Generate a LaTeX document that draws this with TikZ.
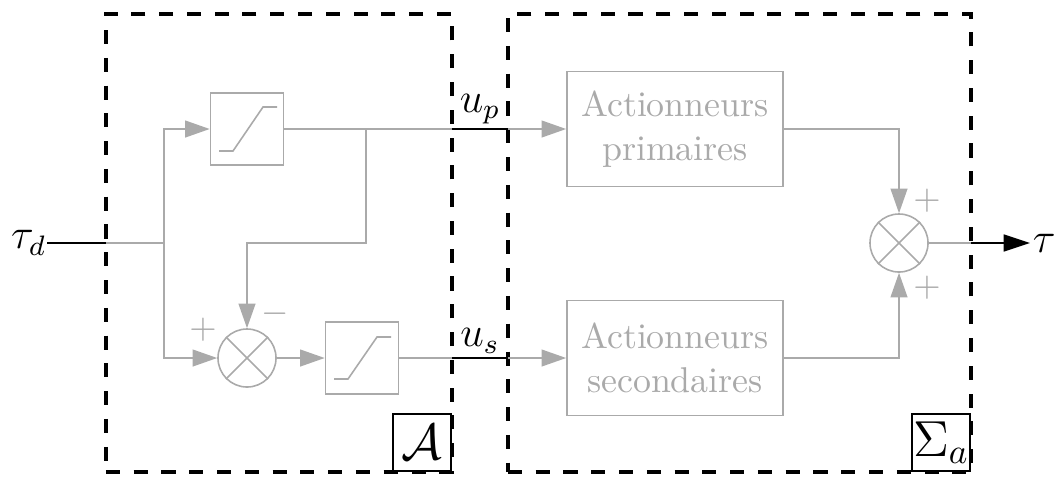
\documentclass[tikz,border=0pt]{standalone}
\usetikzlibrary{arrows.meta}
\definecolor{lg}{RGB}{170,170,170}
\tikzset{
  gl/.style={draw=lg, line width=0.45pt},
  arr/.style={-{Triangle[length=7pt,width=4.8pt]}},
  blk/.style={draw=black, line width=0.6pt},
  dbox/.style={draw=black, line width=1.15pt, dash pattern=on 4pt off 3.9pt, outer sep=0pt, inner sep=0pt},
  satbox/.style={draw=lg, line width=0.45pt, minimum width=0.73cm, minimum height=0.72cm, inner sep=0pt},
  sumnode/.style={circle, draw=lg, line width=0.45pt, minimum size=0.58cm, inner sep=0pt},
  actbox/.style={draw=lg, text=lg, line width=0.45pt, minimum width=2.16cm, minimum height=1.15cm, align=center, inner sep=0pt, font=\fontsize{10.2pt}{12.5pt}\selectfont},
  lbl/.style={draw=black, line width=0.6pt, minimum width=0.58cm, minimum height=0.57cm, inner sep=0pt, font=\Large},
  sgn/.style={text=lg, inner sep=0pt},
}
\begin{document}
\begin{tikzpicture}[x=0.01cm, y=-0.01cm]
\useasboundingbox (0,0) rectangle (1055,478);

% dashed frames
\node[dbox, minimum width=3.46cm, minimum height=4.58cm] (A) at (279,243) {};
\node[dbox, minimum width=4.63cm, minimum height=4.58cm] (S) at (739.5,243) {};
\node[lbl, anchor=south east] (Alab) at (A.south east) {$\mathcal{A}$};
\node[lbl, anchor=south east] (Slab) at (S.south east) {$\Sigma_a$};

% blocks
\node[satbox] (sat1) at (247,129) {};
\node[satbox] (sat2) at (362,358) {};
\draw[gl] ([shift={(-28,22)}]sat1.center) -- ++(14,0) -- ++(30,-44) -- ++(14,0);
\draw[gl] ([shift={(-28,21)}]sat2.center) -- ++(14,0) -- ++(29,-42) -- ++(14,0);
\node[sumnode] (c1) at (247,358) {};
\draw[gl] (c1.north west) -- (c1.south east) (c1.north east) -- (c1.south west);
\node[sumnode] (c2) at (899,243) {};
\draw[gl] (c2.north west) -- (c2.south east) (c2.north east) -- (c2.south west);
\node[actbox] (ap) at (675,129) {Actionneurs\\primaires};
\node[actbox] (as) at (675,358) {Actionneurs\\secondaires};

% signs
\node[sgn] (p1) at (203,330) {$+$};
\node[sgn] (m1) at (275,314) {$-$};
\node[sgn] (p2) at (927,201) {$+$};
\node[sgn] (p3) at (927,288) {$+$};

% input
\node[anchor=east, inner sep=0pt, font=\large] (td) at (47,243) {$\tau_d$};
\coordinate (inL) at (106,243);
\coordinate (split) at (164,243);
\draw[blk] (td.east) -- (inL);
\draw[gl] (inL) -- (split);
\draw[gl, arr] (split) |- (sat1.west);
\draw[gl, arr] (split) |- (c1.west);

% feedback
\coordinate (br) at (366,129);
\coordinate (fbA) at (366,243);
\coordinate (fbB) at (247,243);
\draw[gl, arr] (br) -- (fbA) -- (fbB) -- (c1.north);
\draw[gl, arr] (c1.east) -- (sat2.west);

% outputs of A
\coordinate (upL) at (452,129);
\coordinate (upR) at (508,129);
\coordinate (usL) at (452,358);
\coordinate (usR) at (508,358);
\draw[gl] (sat1.east) -- (upL);
\draw[gl] (sat2.east) -- (usL);
\draw[blk] (upL) -- (upR);
\draw[blk] (usL) -- (usR);
\node[above, inner sep=1.2pt, font=\large] (up) at (480,129) {$u_p$};
\node[above, inner sep=1.2pt, font=\large] (us) at (480,358) {$u_s$};
\draw[gl, arr] (upR) -- (ap.west);
\draw[gl, arr] (usR) -- (as.west);

% to summation
\draw[gl, arr] (ap.east) -| (c2.north);
\draw[gl, arr] (as.east) -| (c2.south);

% output
\coordinate (outL) at (971,243);
\node[anchor=west, inner sep=0.6pt, font=\large] (tau) at (1030,243) {$\tau$};
\draw[gl] (c2.east) -- (outL);
\draw[blk, -{Triangle[length=7.5pt,width=4.8pt]}] (outL) -- (tau.west);
\end{tikzpicture}
\end{document}
